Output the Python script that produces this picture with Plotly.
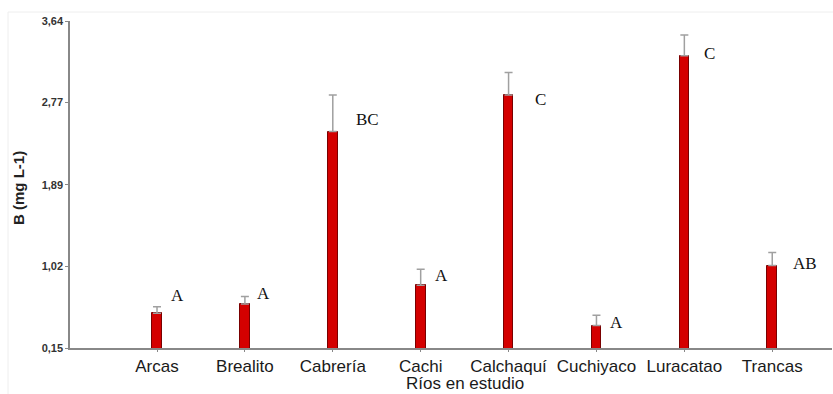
import plotly.graph_objects as go

rivers = ["Arcas", "Brealito", "Cabrería", "Cachi", "Calchaquí", "Cuchiyaco", "Luracatao", "Trancas"]
boron = [0.52, 0.62, 2.46, 0.82, 2.85, 0.39, 3.27, 1.03]
boron_err = [0.07, 0.08, 0.39, 0.17, 0.24, 0.11, 0.22, 0.14]
groups = ["A", "A", "BC", "A", "C", "A", "C", "AB"]
y_ticks = [0.15, 1.02, 1.89, 2.77, 3.64]
y_ticktext = ["0,15", "1,02", "1,89", "2,77", "3,64"]

# label placement offsets (pixels)
label_dx = [12, 10, 21, 12, 24, 12, 18, 19]
label_dy = [18, 10, 12, 10, -4, 3, 2, 2]

fig = go.Figure()
fig.add_trace(go.Bar(
    x=rivers, y=boron, width=0.11,
    marker=dict(color="#d40000", line=dict(color="#7a0000", width=1)),
    error_y=dict(type="data", symmetric=False, array=boron_err,
                 arrayminus=[0] * len(boron_err),
                 color="#a0a0a0", thickness=1.5, width=4),
))

for r, v, g, dx, dy in zip(rivers, boron, groups, label_dx, label_dy):
    fig.add_annotation(x=r, y=v, text=g, showarrow=False, xanchor="left",
                       yanchor="middle", xshift=dx, yshift=dy,
                       font=dict(family="Liberation Serif", size=17, color="#111"))

fig.add_annotation(text="Ríos en estudio", xref="paper", yref="paper",
                   x=(465 - 70) / (832 - 70), y=-(383 - 348) / (348 - 21),
                   showarrow=False, xanchor="center", yanchor="middle",
                   font=dict(family="Liberation Sans", size=17, color="#1a1a1a"))
fig.add_annotation(text="<b>B (mg L-1)</b>", xref="paper", yref="paper",
                   x=-(70 - 18) / (832 - 70), y=(348 - 188) / (348 - 21),
                   showarrow=False, textangle=-90, xanchor="center", yanchor="middle",
                   font=dict(family="Liberation Sans", size=15, color="#222"))

# faint image frame
fx = -(70 - 8) / (832 - 70)
fy = (348 - 12) / (348 - 21)
fig.add_shape(type="line", xref="paper", yref="paper",
              x0=fx, x1=1.01, y0=fy, y1=fy,
              line=dict(color="#eeeeee", width=1))
fig.add_shape(type="line", xref="paper", yref="paper",
              x0=fx, x1=fx, y0=fy, y1=-0.2,
              line=dict(color="#eeeeee", width=1))

fig.update_layout(
    width=833, height=394,
    margin=dict(l=70, r=1, t=21, b=46),
    plot_bgcolor="white", paper_bgcolor="white",
    showlegend=False, bargap=0, hovermode=False,
    font=dict(family="Liberation Sans", color="#222"),
)
fig.update_xaxes(
    type="category", range=[-0.99, 7.68],
    showline=True, linecolor="#888888", linewidth=1.5,
    ticks="outside", ticklen=2, tickcolor="#888888",
    tickfont=dict(size=17, color="#1a1a1a"), showgrid=False, zeroline=False,
)
fig.update_yaxes(
    range=[0.15, 3.64], tickvals=y_ticks, ticktext=y_ticktext,
    showline=True, linecolor="#888888", linewidth=1.5,
    ticks="outside", ticklen=3, tickcolor="#888888",
    tickfont=dict(size=11, color="#333", family="Liberation Sans Narrow, Liberation Sans", weight="bold"),
    showgrid=False, zeroline=False,
)

fig.write_html("out.html", config={"displayModeBar": False},
               post_script="document.body.style.margin='0';")
